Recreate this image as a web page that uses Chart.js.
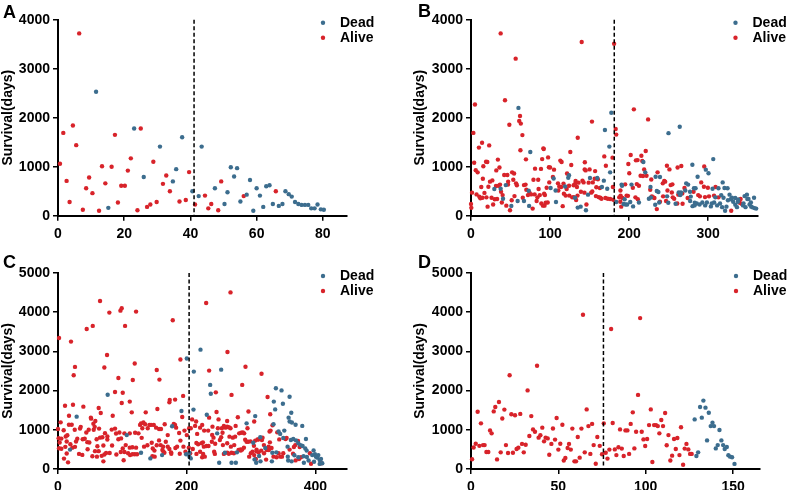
<!DOCTYPE html>
<html><head><meta charset="utf-8">
<script src="https://cdn.jsdelivr.net/npm/chart.js@4.4.1/dist/chart.umd.min.js"></script>
<style>
html,body{margin:0;padding:0;background:#fff;width:789px;height:490px;overflow:hidden}
canvas{position:absolute}
</style></head><body>
<canvas id="cA" width="394" height="245" style="left:0;top:0"></canvas>
<canvas id="cB" width="395" height="245" style="left:394px;top:0"></canvas>
<canvas id="cC" width="394" height="245" style="left:0;top:245px"></canvas>
<canvas id="cD" width="395" height="245" style="left:394px;top:245px"></canvas>
<script>
const seriesNames = ['Dead', 'Alive'];
const panelLetters = ['A', 'B', 'C', 'D'];
const yTitle = 'Survival(days)';

const xTicksA = [0, 20, 40, 60, 80];
const xTicksB = [0, 100, 200, 300];
const xTicksC = [0, 200, 400];
const xTicksD = [0, 50, 100, 150];
const yTicksAB = [0, 1000, 2000, 3000, 4000];
const yTicksCD = [0, 1000, 2000, 3000, 4000, 5000];
const xMaxes = [87.3, 363, 449, 165.4];
const cutoffs = [41.1, 181.2, 203.7, 75.8];

const deadA = [[11.5,2530],[15.2,160],[23.0,1780],[25.9,790],[30.8,1410],[34.7,700],[35.7,950],[37.5,1600],[40.6,500],[42.5,400],[43.4,1410],[47.4,560],[50.3,240],[51.2,480],[52.2,990],[53.2,800],[54.1,970],[55.1,290],[57.0,430],[58.0,730],[59.0,100],[60.0,560],[61.0,410],[62.0,180],[62.9,600],[63.9,620],[64.9,240],[66.7,200],[67.8,240],[68.7,500],[69.7,440],[70.6,390],[71.6,280],[72.6,240],[73.6,220],[74.6,220],[75.6,220],[76.5,150],[77.5,150],[78.4,230],[79.4,130],[80.3,120]];
const aliveA = [[0.6,1060],[1.6,1690],[2.6,710],[3.5,280],[4.5,1840],[5.5,1440],[6.4,3720],[7.5,120],[8.5,560],[9.4,780],[10.4,460],[12.4,100],[13.3,1010],[14.3,660],[16.2,1000],[17.2,1650],[18.1,270],[19.1,610],[20.2,610],[21.1,920],[22.0,1170],[24.0,110],[25.0,1780],[26.9,180],[27.9,230],[28.8,1100],[29.8,280],[31.7,650],[32.7,820],[33.8,500],[36.7,290],[38.6,320],[39.6,890],[41.4,230],[44.4,410],[45.4,150],[46.3,240],[48.4,110],[49.3,700],[56.1,400],[65.8,500]];

const deadB = [[29.5,545],[37.5,550],[40.5,345],[44,625],[51,200],[59,300],[60,2200],[67,300],[73,510],[73.5,200],[75,1300],[100.7,565],[104.5,760],[107,515],[107.5,280],[119,595],[123,775],[124,825],[131.5,365],[135,165],[138.7,185],[145.4,110],[148,430],[150.5,770],[159.7,770],[165.6,585],[168,715],[169.4,1750],[172.3,550],[175,1410],[176,885],[177.5,2100],[183.7,280],[190.5,635],[191,610],[193,240],[194.3,335],[195.5,230],[197.5,230],[201.4,280],[203,635],[205,190],[212.4,270],[218,1095],[220.4,885],[225,345],[227,585],[227.5,370],[233,225],[233.5,795],[235,505],[237,485],[238,270],[239,790],[248,395],[249.5,265],[249.8,1685],[258.8,245],[262.7,475],[264,1815],[264.5,420],[265,435],[265.6,475],[271,515],[272.2,660],[274.6,635],[277,490],[277.2,300],[278,390],[280,1040],[280.2,195],[282,560],[282.8,210],[283,265],[284,560],[285.5,250],[286.6,795],[289.1,230],[292.6,270],[296.2,210],[297,940],[298.4,270],[300.4,865],[303.4,190],[304.5,250],[305.5,550],[306.4,1155],[307.5,270],[309,375],[311.3,210],[313,560],[315,250],[316.5,420],[317.6,175],[318.3,680],[319.4,365],[320.6,565],[321.4,100],[323.1,185],[324.5,560],[325,315],[327,430],[328.6,335],[330,365],[331.6,285],[334.2,360],[334.3,225],[336.4,175],[337.6,285],[338,330],[344,210],[344.7,250],[346,400],[347.2,175],[349,430],[349.5,340],[351,340],[352.3,230],[354,270],[354.4,185],[356,170],[358,365],[358.6,155],[360.7,145]];
const aliveB = [[0,240],[0.4,160],[1.3,470],[3,1690],[4,1080],[5,2270],[6,930],[7,435],[8.4,885],[10,1390],[10.5,390],[11.8,355],[13,585],[14,1490],[14.5,365],[15,755],[15.6,1010],[17,465],[19,1100],[19.5,375],[20.6,1095],[21,185],[22,590],[23,1435],[24,695],[26,365],[27,720],[28,230],[30,335],[31.6,605],[32,925],[33,340],[34,1145],[35,610],[36,985],[36.7,635],[37.5,3720],[38,490],[39,270],[40,420],[42,830],[43,2355],[44.7,205],[46,830],[46.8,635],[47,695],[48.5,1855],[49.3,110],[51.5,315],[52,885],[53.5,735],[54.5,860],[55,400],[56.5,3205],[57,660],[58,620],[61,1935],[62,2035],[62.5,1335],[63,1880],[65,1645],[65.5,365],[67,625],[69,635],[69.5,1150],[70,530],[72,420],[74,470],[76,435],[78,145],[79,735],[80.5,435],[81,960],[83,300],[84,375],[85,735],[85.5,545],[87,420],[88.5,955],[89,250],[90,1155],[91,205],[91.5,1375],[92,1360],[92.5,450],[93,205],[93.5,420],[94.4,265],[95.7,570],[97,270],[97.5,1190],[98.5,990],[99,680],[100,985],[103.6,790],[105,940],[110,660],[110.5,515],[111.7,595],[113,1125],[114,585],[114.6,1095],[116,195],[117,655],[117.5,450],[119.7,410],[121,545],[121.5,860],[124,610],[124.3,410],[125.6,1300],[126.8,1035],[128,375],[129.8,620],[130,380],[132,660],[132.3,710],[133,320],[134,585],[134.7,410],[135,1590],[136,675],[139,490],[140,3545],[141,715],[142.4,680],[143.5,470],[143.8,945],[144,1090],[145,925],[146,230],[148.8,675],[150,945],[152,470],[153,1920],[153.4,495],[154,680],[156.4,755],[157,910],[158,400],[158.5,580],[160.5,745],[161.4,380],[163,565],[163.5,365],[165,345],[168.6,1210],[170,360],[170.6,1020],[173,345],[176,340],[179,1185],[179.5,585],[180,325],[181,3510],[183,1770],[183.7,1655],[187.5,375],[188.8,285],[189,515],[190,185],[189.2,410],[191.7,360],[195,640],[196.8,410],[198.5,405],[199,1055],[200.2,865],[202,1240],[204.7,570],[206,2170],[208,375],[208.6,1130],[209.7,645],[210.7,1135],[211,335],[212.4,610],[214.5,815],[215.5,1225],[216.6,1115],[217.5,810],[219,945],[221,1320],[222,815],[224,1965],[226.7,530],[228,740],[228.8,395],[230.5,375],[232,360],[235,135],[236,885],[239,285],[242.6,660],[243,395],[244.4,710],[245.6,695],[246.7,300],[247.8,1020],[248.5,515],[251,945],[252.5,625],[254,475],[254.7,640],[255.2,375],[257,345],[260.9,250],[261.3,985],[262.2,430],[266,1015],[267.2,455],[267.6,245],[270,565],[274,360],[281.5,490],[287.4,420],[289.5,395],[291.2,680],[294.6,590],[295,1005],[296,380],[299.6,570],[301,395],[307.4,410],[309.3,585],[313,375],[329.1,100],[340,265],[341,340],[342.7,240]];

const deadC = [[18.7,495],[29,1335],[77.2,1895],[106.8,865],[129,415],[143.5,270],[161.7,355],[177.3,1090],[191.8,1480],[199.1,375],[200.1,2820],[204.2,315],[204.2,415],[206.3,270],[210.5,1515],[211,2485],[221.4,3045],[231.2,1385],[236.4,2145],[237.4,1920],[247.3,910],[250.4,160],[253.5,2535],[259.3,415],[269.6,160],[276.3,160],[278,425],[293,1165],[303.3,670],[305.4,245],[306.4,1350],[307.9,160],[312.5,330],[314.2,810],[314.6,195],[322,535],[332.3,195],[333,415],[334.8,1140],[335.3,1720],[337.4,1520],[338.5,2060],[339.2,425],[342.7,955],[345.2,895],[347.3,2005],[349.4,1665],[350,790],[351.6,980],[356.7,570],[357,315],[357.6,215],[358.3,1310],[359.8,1845],[359.8,1210],[361.8,740],[362.4,1435],[362.9,195],[363.4,1185],[365.5,765],[367.3,350],[369.1,1130],[369.7,730],[373.4,655],[373.4,300],[376.9,610],[379.5,1100],[380,585],[381.5,325],[382,160],[384.2,525],[385.2,765],[386.3,470],[386.7,305],[389.3,215],[395,355],[397.1,475],[397.8,185],[399.2,375],[400.7,315],[402.8,290],[404.4,355],[406.5,230],[406.5,130],[408.6,255],[410.6,145]];
const aliveC = [[0,1020],[1,785],[1.6,3340],[1.6,530],[2.6,675],[4.1,1190],[5.2,775],[5.2,515],[8.8,990],[9.3,265],[10.9,1615],[11.4,565],[12,830],[13.5,700],[13.5,395],[14.5,860],[15.6,170],[17,1130],[17.1,1360],[19.2,630],[20.2,3250],[21.3,1130],[22.3,545],[23.3,1640],[24.4,2390],[26,1000],[26.4,2605],[26.4,565],[28,700],[30,770],[32.7,385],[34.2,1030],[35.3,1075],[37.8,360],[38.4,760],[39.4,1590],[41.5,770],[44,930],[44.6,3570],[45.6,685],[46,505],[47.7,1000],[48.7,675],[51,1310],[51.5,1285],[53.4,325],[54,3650],[55,1155],[55.5,1000],[57,1075],[57.5,455],[58,1225],[60,760],[60.5,315],[61.2,580],[63.2,1555],[63.2,455],[63.8,1030],[65.3,4285],[65.3,800],[66.4,1430],[67.9,335],[69,810],[70.5,600],[70.5,195],[72,2590],[72,370],[73,915],[74.7,410],[76.2,2910],[76.7,830],[76.7,750],[79.8,3990],[80.3,410],[83.5,1005],[84,600],[85,1360],[88.6,1965],[88.6,1030],[90.2,905],[90.7,370],[93.8,2320],[93.8,760],[95.4,930],[97,4040],[97.5,435],[99,4100],[99,1685],[100.6,1945],[102,225],[98,780],[100.6,525],[103.2,910],[103.2,435],[104.2,3650],[105.2,610],[108.9,400],[111.5,1720],[111.5,910],[111.5,545],[112,355],[114.6,1445],[115.6,555],[115.6,375],[116.2,2270],[119.2,2690],[119.2,375],[119.8,925],[121.3,4015],[121.3,545],[122.8,375],[125,910],[127.5,1125],[129,1165],[130,795],[131,1040],[132.7,1185],[133.7,570],[135.3,1140],[136.3,1445],[138.9,605],[139.4,1040],[142,1125],[144.6,1125],[145.6,670],[146.6,325],[147.2,525],[148.8,1125],[149.8,470],[150.2,315],[152.4,1055],[153.4,2525],[153.4,605],[154.4,1530],[157,1020],[157,730],[157.6,2280],[159.5,610],[160,1020],[162.2,485],[163.3,570],[163.8,440],[165.3,415],[165.8,1140],[167.5,695],[170.5,865],[170.5,570],[173,1700],[173,510],[173.6,1760],[175.7,425],[176,390],[178.3,3795],[179.9,1150],[181.9,1770],[181.9,1125],[182.4,535],[183.5,1055],[185,570],[188.2,920],[189.2,390],[190.2,2795],[190.2,725],[193,1325],[194.4,1865],[194.9,570],[196.5,980],[198,440],[200.1,865],[203.2,545],[203.7,1040],[205.3,400],[206.3,1040],[208.4,1265],[209.4,510],[213,1100],[214.6,1210],[215,665],[215.1,385],[216.2,895],[217.7,630],[220.8,1055],[220.8,440],[223,655],[224,1125],[224,300],[225.1,680],[225.5,385],[226.6,570],[227.1,980],[228.1,315],[230.2,4235],[230.8,585],[233.3,980],[233.8,585],[234.8,2510],[234.8,1310],[239,695],[239.5,870],[240,1080],[241.6,800],[242.6,440],[243.7,385],[244.2,645],[245.2,1955],[246.3,1455],[248.4,1040],[249.4,1265],[251.5,740],[253.5,810],[254.6,1040],[255.6,925],[256.2,610],[257.7,1100],[257.7,385],[260.3,1055],[262.8,1080],[262.8,1225],[262.9,655],[262.9,415],[263.3,2985],[265.4,1065],[265.4,390],[266.4,825],[268,4505],[268,1040],[268.6,570],[269.6,1890],[269.6,415],[271.6,800],[273.3,400],[273.8,610],[275.2,825],[276,1100],[279.4,1320],[280.5,485],[281.5,910],[283.7,500],[284,470],[284.6,925],[286.2,2145],[286.2,495],[287.2,935],[288.8,545],[289.2,910],[290.8,745],[291.3,2610],[293,695],[294.4,1040],[295.5,695],[295.9,1465],[297,315],[299.1,705],[299.6,400],[302.2,440],[304.4,595],[304.8,1210],[304.8,355],[306.4,725],[308.5,495],[310,755],[307.4,255],[308.4,450],[311.1,750],[311.6,425],[315.7,470],[316.2,2430],[316.8,740],[317.8,800],[319.9,610],[320.1,400],[323.3,240],[324.3,485],[325.6,1835],[327.2,570],[327.6,485],[328.7,955],[329.2,680],[329.7,1395],[330.2,980],[331.8,535],[333.3,1115],[334.8,315],[339.6,300],[340.6,935],[342.7,400],[343.7,755],[345.4,315],[348,315],[350,400],[353.6,765],[355.2,790],[359.8,495],[365.2,390],[366.5,560],[368.6,610],[369.1,220],[372.9,715],[374.4,255],[375.4,560],[377.5,300],[391.4,400],[393.1,135],[409,145]];

const deadD = [[128,1265],[129,330],[130,425],[131.1,1580],[132.1,1310],[133,1745],[134.2,1565],[135.1,730],[136.1,1435],[137.2,1095],[138.2,1180],[139.1,1095],[140.1,525],[141.2,610],[142.2,995],[143.3,730],[144.3,610],[145.2,510],[146.4,560],[147.3,350],[148.3,315],[149.4,300],[150.8,130]];
const aliveD = [[0.6,250],[1.5,550],[2.7,645],[3.8,1460],[4.8,590],[5.7,1165],[6.9,610],[7.8,610],[8.8,435],[9.9,435],[10.9,985],[11.8,910],[13,1470],[13.9,1580],[14.9,245],[16,1710],[17,425],[17.9,1290],[19.1,1515],[20,610],[21.2,410],[22.1,2390],[23.1,1395],[24,415],[25.2,1370],[26.1,510],[27.1,545],[28.2,1405],[29.2,640],[30.2,425],[31.3,620],[32.4,2005],[33.4,840],[34.5,1350],[35.5,1010],[36.6,950],[37.8,2635],[38.7,800],[39.7,860],[40.8,1055],[41.8,705],[42.7,800],[43.9,780],[44.8,365],[46,640],[46.9,1035],[48.1,750],[49,1300],[50,495],[51.1,645],[52.3,1130],[53.1,215],[54,280],[55.3,535],[56.1,640],[57.1,495],[58,1030],[59.2,195],[60.1,195],[61.1,815],[62.2,290],[63.2,1030],[64.1,3935],[65.1,425],[66.2,1520],[67.2,1095],[68.3,385],[69.3,1150],[70.2,610],[71.4,135],[72.3,815],[73.7,590],[75,375],[76,1165],[77.1,415],[78.1,265],[79.2,495],[80.2,3570],[81.1,1175],[82.3,500],[83.2,355],[84.4,555],[85.3,1010],[86.3,520],[87.4,330],[88.4,985],[89.5,985],[90.5,385],[91.4,1150],[92.6,1445],[93.5,525],[94.5,950],[95.6,1890],[96.8,3850],[97.7,950],[98.7,755],[99.7,585],[100.8,765],[101.9,1120],[102.9,1520],[103.8,180],[104.8,1120],[105.9,1120],[106.9,1095],[107.8,910],[108.9,1250],[109.9,1095],[111.1,1430],[112,605],[113,865],[114.1,215],[115.1,340],[116.2,765],[117.2,510],[118.1,790],[119.3,355],[120.2,1065],[121.4,110],[122.3,520],[123.3,640],[124.4,500],[125.4,385],[126.3,385]];

const DEAD_COLOR = '#3c6d8e';
const ALIVE_COLOR = '#d8232a';
const FONT = "'Liberation Sans', Arial, Helvetica, sans-serif";
Chart.defaults.font.family = FONT;
Chart.defaults.color = '#000';

const cutoffPlugin = {
  id: 'cutoff',
  afterDatasetsDraw(chart, args, opts) {
    const {ctx, chartArea} = chart;
    const px = chart.scales.x.getPixelForValue(opts.value);
    ctx.save();
    ctx.setLineDash([4, 2.5]);
    ctx.lineWidth = 1.5;
    ctx.strokeStyle = '#000';
    ctx.beginPath();
    ctx.moveTo(px, chartArea.top);
    ctx.lineTo(px, chartArea.bottom);
    ctx.stroke();
    ctx.restore();
  }
};
const legendPlugin = {
  id: 'miniLegend',
  afterDraw(chart, args, opts) {
    const {ctx, chartArea} = chart;
    ctx.save();
    chart.data.datasets.forEach((ds, i) => {
      const mx = chartArea.right - opts.offset;
      const my = chartArea.top + 3 + i * 15;
      ctx.fillStyle = ds.backgroundColor;
      ctx.beginPath();
      ctx.arc(mx, my, 2.2, 0, Math.PI * 2);
      ctx.fill();
      ctx.fillStyle = '#000';
      ctx.font = 'bold 14px ' + FONT;
      ctx.textBaseline = 'middle';
      ctx.textAlign = 'left';
      ctx.fillText(ds.label, mx + 17, my + 0.5);
    });
    ctx.restore();
  }
};
const letterPlugin = {
  id: 'panelLetter',
  afterDraw(chart, args, opts) {
    const ctx = chart.ctx;
    ctx.save();
    ctx.fillStyle = '#000';
    ctx.font = 'bold 18px ' + FONT;
    ctx.textBaseline = 'alphabetic';
    ctx.textAlign = 'left';
    ctx.fillText(opts.text, opts.x, opts.y);
    ctx.restore();
  }
};

function toPts(arr) { return arr.map(([x, y]) => ({x, y})); }

function makePanel(id, idx, dead, alive, xTicks, yTicks, geom) {
  const yMax = yTicks[yTicks.length - 1];
  new Chart(document.getElementById(id), {
    type: 'scatter',
    data: {
      datasets: [
        {label: seriesNames[0], data: toPts(dead), backgroundColor: DEAD_COLOR, borderWidth: 0, pointRadius: 2.2, pointHoverRadius: 2.2, clip: false},
        {label: seriesNames[1], data: toPts(alive), backgroundColor: ALIVE_COLOR, borderWidth: 0, pointRadius: 2.2, pointHoverRadius: 2.2, clip: false}
      ]
    },
    options: {
      responsive: false,
      animation: false,
      events: [],
      layout: {padding: {left: geom.padL, top: geom.top, right: geom.padR, bottom: 0}},
      plugins: {
        legend: {display: false},
        tooltip: {enabled: false},
        cutoff: {value: cutoffs[idx]},
        miniLegend: {offset: geom.legOff},
        panelLetter: {text: panelLetters[idx], x: geom.lx, y: geom.ly}
      },
      scales: {
        x: {
          type: 'linear', min: 0, max: xMaxes[idx],
          afterBuildTicks: s => { s.ticks = xTicks.map(v => ({value: v})); },
          afterFit: s => { s.height = geom.xH; },
          ticks: {font: {size: 14, weight: 'bold'}, color: '#000', padding: 5, maxRotation: 0, autoSkip: false, callback: v => String(v)},
          grid: {display: true, drawOnChartArea: false, drawTicks: true, tickLength: 5, color: '#000', lineWidth: 1.5},
          border: {display: true, color: '#000', width: 2}
        },
        y: {
          type: 'linear', min: 0, max: yMax,
          afterBuildTicks: s => { s.ticks = yTicks.map(v => ({value: v})); },
          afterFit: s => { s.width = geom.yW; },
          ticks: {font: {size: 14, weight: 'bold'}, color: '#000', padding: 3, callback: v => String(v)},
          grid: {display: true, drawOnChartArea: false, drawTicks: true, tickLength: 5, color: '#000', lineWidth: 1.5},
          border: {display: true, color: '#000', width: 2},
          title: {display: true, text: yTitle, color: '#000', font: {size: 14, weight: 'bold'}, padding: {top: 0, bottom: 0}}
        }
      }
    },
    plugins: [cutoffPlugin, legendPlugin, letterPlugin]
  });
}

makePanel('cA', 0, deadA, aliveA, xTicksA, yTicksAB, {padL: 0, top: 19.7, padR: 47, yW: 58, xH: 29.3, legOff: 24, lx: 3, ly: 18});
makePanel('cB', 1, deadB, aliveB, xTicksB, yTicksAB, {padL: 18, top: 19.7, padR: 31, yW: 59, xH: 29.3, legOff: 22.5, lx: 24, ly: 17});
makePanel('cC', 2, deadC, aliveC, xTicksC, yTicksCD, {padL: 0, top: 28, padR: 47, yW: 58, xH: 21, legOff: 24, lx: 3, ly: 23});
makePanel('cD', 3, deadD, aliveD, xTicksD, yTicksCD, {padL: 18, top: 28, padR: 29, yW: 59, xH: 21, legOff: 24, lx: 24, ly: 23});
</script>
</body></html>
